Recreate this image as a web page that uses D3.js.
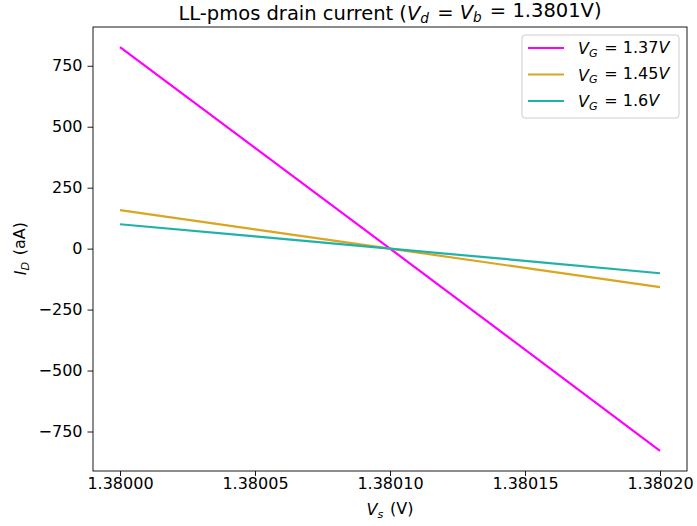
<!doctype html>
<html>
<head>
<meta charset="utf-8">
<title>LL-pmos drain current</title>
<script src="https://cdn.jsdelivr.net/npm/d3@7"></script>
<style>
    html, body { margin: 0; padding: 0; background: #fff; }
    svg { font-family: "DejaVu Sans", sans-serif; }
</style>
</head>
<body>
<div id="chart"></div>
<script>
// data
var vsValues = [1.38000, 1.38005, 1.38010, 1.38015, 1.38020]
var seriesNames = ["1.37", "1.45", "1.6"]
var id137 = [826, 413, 0, -414, -829]
var id145 = [158, 79, 0, -79, -158]
var id160 = [100, 50, 0, -50, -101]
var seriesColors = ["#ff00ff", "#daa520", "#20b2aa"]
var xTicks = [1.38000, 1.38005, 1.38010, 1.38015, 1.38020]
var yTicks = [-750, -500, -250, 0, 250, 500, 750]

var W = 697, H = 526
var margin = { left: 93, right: 10, top: 27, bottom: 55 }

var svg = d3.select("#chart").append("svg")
    .attr("width", W).attr("height", H)

var x = d3.scaleLinear().domain([1.37999, 1.38021]).range([margin.left, W - margin.right])
var y = d3.scaleLinear().domain([-912, 909]).range([H - margin.bottom, margin.top])

var series = [id137, id145, id160].map(function (vals, i) {
    return { name: seriesNames[i], color: seriesColors[i], values: vals }
})

var line = d3.line()
    .x(function (d, i) { return x(vsValues[i]) })
    .y(function (d) { return y(d) })

svg.selectAll("path.series").data(series).enter().append("path")
    .attr("class", "series")
    .attr("d", function (d) { return line(d.values) })
    .attr("fill", "none")
    .attr("stroke", function (d) { return d.color })
    .attr("stroke-width", 2.2)

// axes
var xAxis = d3.axisBottom(x).tickValues(xTicks).tickFormat(d3.format(".5f")).tickSize(5).tickPadding(2)
var yAxis = d3.axisLeft(y).tickValues(yTicks).tickFormat(function (d) { return d < 0 ? "\u2212" + Math.abs(d) : d }).tickSize(5.5).tickPadding(5)

var gx = svg.append("g").attr("transform", "translate(0," + (H - margin.bottom) + ")").call(xAxis)
var gy = svg.append("g").attr("transform", "translate(" + margin.left + ",0)").call(yAxis)
;[gx, gy].forEach(function (g) {
    g.select(".domain").remove()
    g.selectAll("text").attr("font-size", 16).attr("font-family", "DejaVu Sans").attr("fill", "#000")
    g.selectAll("line").attr("stroke", "#000").attr("stroke-width", 0.9)
})

// frame
svg.append("rect")
    .attr("x", margin.left).attr("y", margin.top)
    .attr("width", W - margin.left - margin.right)
    .attr("height", H - margin.top - margin.bottom)
    .attr("fill", "none").attr("stroke", "#000").attr("stroke-width", 0.9)

function mathVar(sel, base, sub) {
    sel.append("tspan").attr("font-style", "italic").text(base)
    sel.append("tspan").attr("font-style", "italic").attr("font-size", "70%").attr("dy", "0.25em").text(sub)
    sel.append("tspan").attr("dy", "-0.25em").text("\u200a")
}

// title
var cx = (margin.left + W - margin.right) / 2
var title = svg.append("text").attr("x", cx).attr("y", 20)
    .attr("text-anchor", "middle").attr("font-size", 19.5)
title.append("tspan").text("LL-pmos drain current (")
mathVar(title, "V", "d")
title.append("tspan").text(" = ")
mathVar(title, "V", "b")
title.append("tspan").text(" = 1.3801V)")

// x label
var xl = svg.append("text").attr("x", cx).attr("y", 515)
    .attr("text-anchor", "middle").attr("font-size", 16)
mathVar(xl, "V", "s")
xl.append("tspan").text(" (V)")

// y label
var yl = svg.append("text")
    .attr("transform", "translate(26," + y(0) + ") rotate(-90)")
    .attr("text-anchor", "middle").attr("font-size", 16)
mathVar(yl, "I", "D")
yl.append("tspan").text(" (aA)")

// legend
var lg = svg.append("g").attr("transform", "translate(522,35)")
lg.append("rect").attr("width", 157).attr("height", 83).attr("rx", 3)
    .attr("fill", "#fff").attr("fill-opacity", 0.8)
    .attr("stroke", "#ccc").attr("stroke-width", 1)
var rows = lg.selectAll("g.row").data(series).enter().append("g")
    .attr("class", "row")
    .attr("transform", function (d, i) { return "translate(0," + (13 + i * 26.5) + ")" })
rows.append("line").attr("x1", 6).attr("x2", 42).attr("y1", 0).attr("y2", 0)
    .attr("stroke", function (d) { return d.color }).attr("stroke-width", 2.2)
rows.append("text").attr("x", 56).attr("y", 6).attr("font-size", 16)
    .each(function (d) {
        var t = d3.select(this)
        mathVar(t, "V", "G")
        t.append("tspan").text(" = " + d.name)
        t.append("tspan").attr("font-style", "italic").text("V")
    })
</script>
</body>
</html>
